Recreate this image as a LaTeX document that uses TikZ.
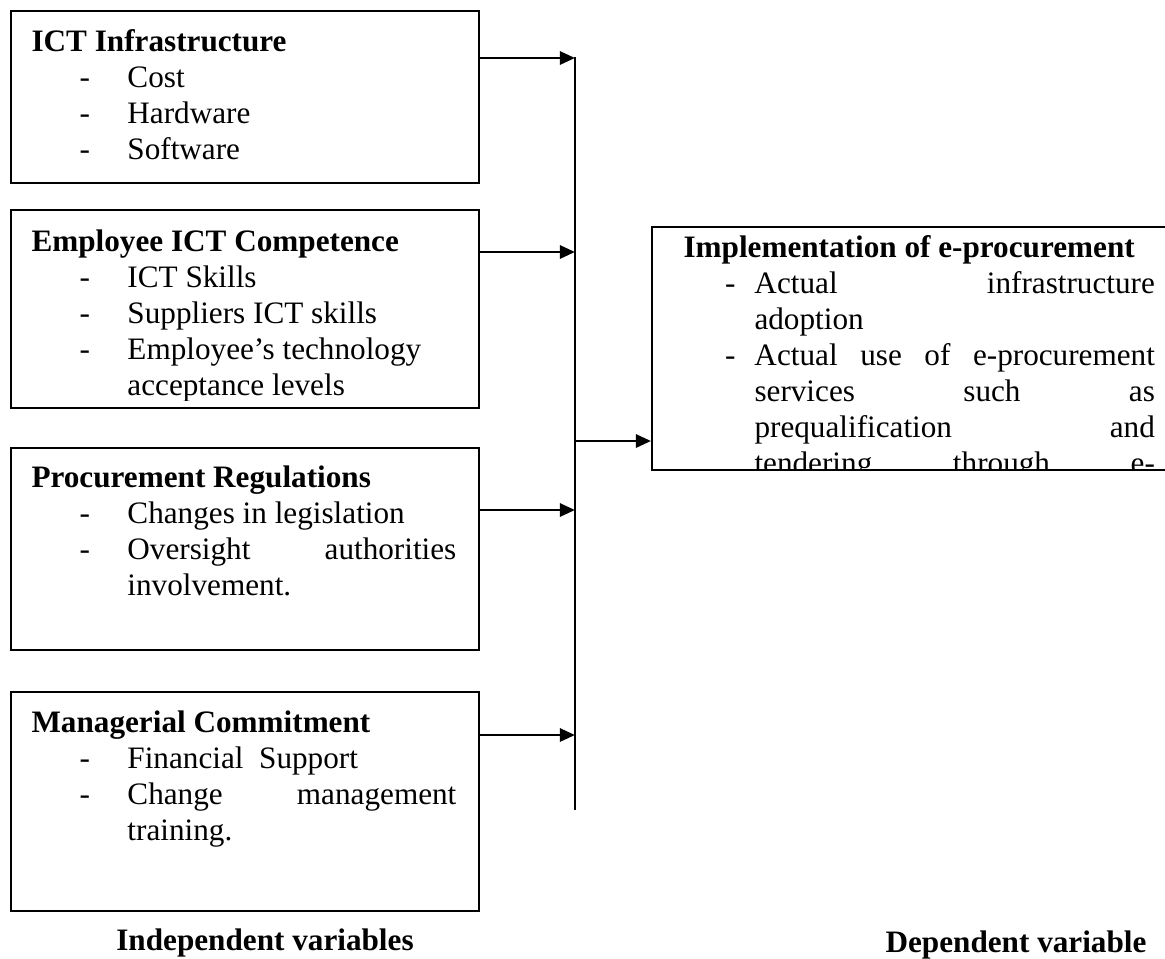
\documentclass[tikz,border=0pt]{standalone}
\usepackage{fontspec}
\setmainfont{Liberation Serif}
\usepackage{tikz}
\usetikzlibrary{arrows.meta, fit}

\newcommand{\ttl}[1]{\rule{0pt}{10pt}\textbf{#1}}
\newcommand{\litem}[1]{\makebox[36.9pt][l]{\hspace*{18.5pt}-}#1}
\newcommand{\lcont}[1]{\hspace*{36.9pt}#1}
\newcommand{\lfill}[1]{\makebox[126.5pt][s]{#1}}
\newcommand{\ritem}[1]{\makebox[27.3pt][l]{\hspace*{16pt}-}#1}
\newcommand{\rcont}[1]{\hspace*{27.3pt}#1}
\newcommand{\rfill}[1]{\makebox[154pt][s]{#1}}

\begin{document}
\begin{tikzpicture}[
	    x=0.3846pt, y=-0.3846pt,
	    >={Triangle[length=5.8pt, width=5pt]},
	    box/.style={draw, line width=0.75pt, inner sep=0pt},
	    txt/.style={anchor=north west, inner sep=0pt, align=left, font=\fontsize{12}{13.85}\selectfont},
	    lbl/.style={inner sep=0pt, font=\fontsize{12}{13.85}\selectfont\bfseries},
	    arrow/.style={->, line width=1.1pt}
	]
		\useasboundingbox (0,0) rectangle (1165,958);

		\node[box, fit={(11,11) (479,183)}] (infra) {};
		\node[box, fit={(11,210) (479,408)}] (compet) {};
		\node[box, fit={(11,448) (479,650)}] (regul) {};
		\node[box, fit={(11,692) (479,911)}] (commit) {};
		\node[box, fit={(652,227) (1168,470)}] (impl) {};

		\node[txt] (infratxt) at (31,25) {\ttl{ICT Infrastructure}\\ \litem{Cost}\\ \litem{Hardware}\\ \litem{Software}};
		\begin{scope}
			\clip (11,210) rectangle (479,400);
			\node[txt] (competxt) at (31,225) {\ttl{Employee ICT Competence}\\ \litem{ICT Skills}\\ \litem{Suppliers ICT skills}\\ \litem{Employee’s technology}\\ \lcont{acceptance levels}};
		\end{scope}
		\node[txt] (regultxt) at (31,461) {\ttl{Procurement Regulations}\\ \litem{Changes in legislation}\\ \litem{\lfill{Oversight \hfill authorities}}\\ \lcont{involvement.}};
		\node[txt] (committxt) at (31,706) {\ttl{Managerial Commitment}\\ \litem{Financial\ \ Support}\\ \litem{\lfill{Change \hfill management}}\\ \lcont{training.}};
		\begin{scope}
			\clip (652,227) rectangle (1165,468);
			\node[txt] (impltxt) at (683,231) {\ttl{Implementation of e-procurement}\\ \ritem{\rfill{Actual \hfill infrastructure}}\\ \rcont{adoption}\\ \ritem{\rfill{Actual use of e-procurement}}\\ \rcont{\rfill{services \hfill such \hfill as}}\\ \rcont{\rfill{prequalification \hfill and}}\\ \rcont{\rfill{tendering \hfill through \hfill e-}}};
		\end{scope}

		\coordinate (bustop) at (575,57);
		\coordinate (busbot) at (575,810);
		\coordinate (in1) at (575,58);
		\coordinate (in2) at (575,252);
		\coordinate (in3) at (575,510);
		\coordinate (in4) at (575,735);
		\coordinate (out) at (575,441);

		\draw[line width=0.8pt] (bustop) -- (busbot);

		\draw[arrow] (infra.east |- in1) -- (in1);
		\draw[arrow] (compet.east |- in2) -- (in2);
		\draw[arrow] (regul.east |- in3) -- (in3);
		\draw[arrow] (commit.east |- in4) -- (in4);
		\draw[arrow] (out) -- (out -| impl.west);

		\node[lbl] (indep) at (265,943) {Independent variables};
		\node[lbl] (dep) at (1016,945) {Dependent variable};
	\end{tikzpicture}
\end{document}
